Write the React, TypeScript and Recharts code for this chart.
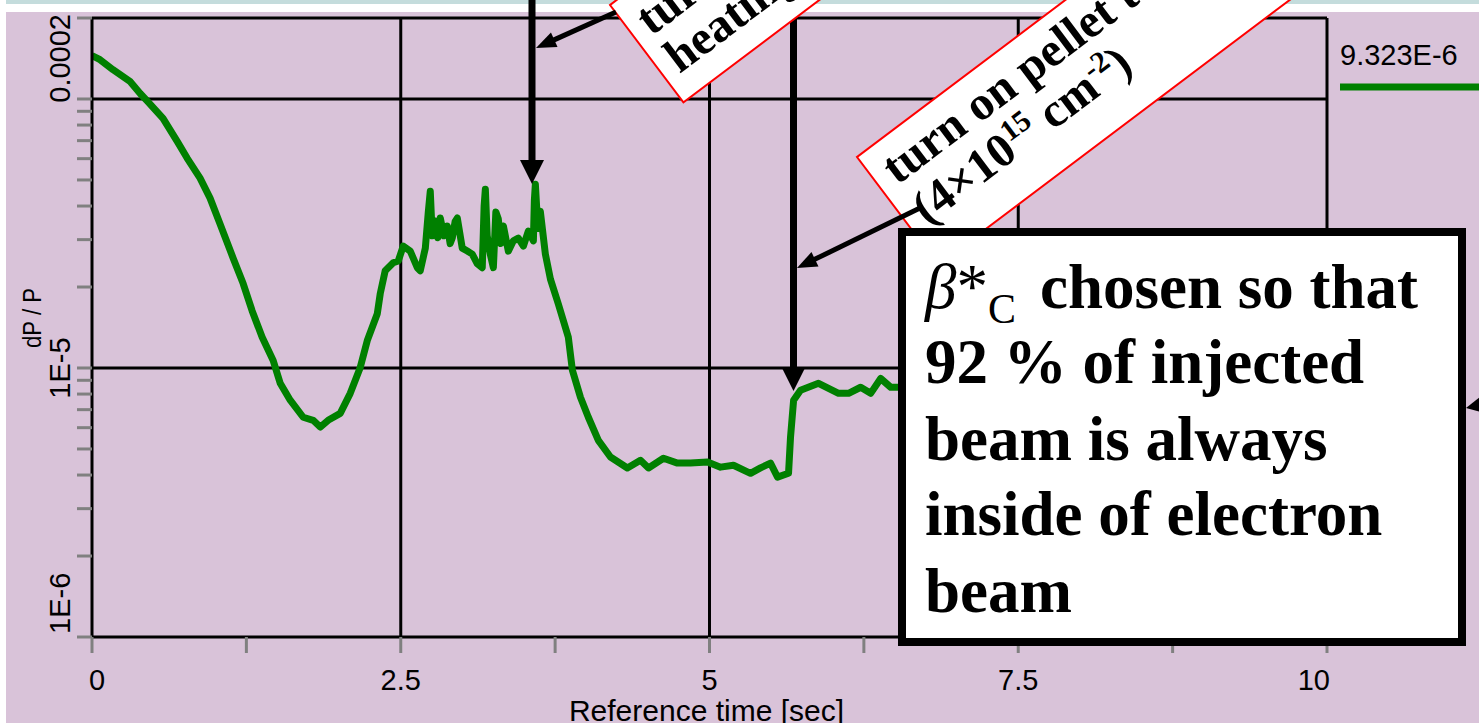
import React from 'react';
import { LineChart, Line, XAxis, YAxis, ReferenceLine, Label } from 'recharts';

// ---- data ----
const TIME_SEC = [
  0, 0.065, 0.17, 0.31, 0.39, 0.45, 0.575, 0.69, 0.77, 0.875,
  0.956, 1.037, 1.143, 1.224, 1.297, 1.378, 1.467, 1.524, 1.605, 1.71,
  1.791, 1.848, 1.912, 2.01, 2.091, 2.172, 2.229, 2.31, 2.334, 2.374,
  2.439, 2.48, 2.52, 2.577, 2.634, 2.658, 2.699, 2.723, 2.739, 2.755, 2.78, 2.8, 2.82,
  2.85, 2.877, 2.9, 2.917, 2.94, 2.958, 2.998, 3.039, 3.079, 3.12, 3.16, 3.175, 3.185, 3.2, 3.225,
  3.25, 3.27, 3.29, 3.31, 3.331, 3.371, 3.412, 3.452, 3.493, 3.533, 3.574, 3.582, 3.59, 3.61,
  3.63, 3.671, 3.712, 3.776, 3.857, 3.89, 3.955, 4.019, 4.1, 4.198,
  4.335, 4.441, 4.506, 4.627, 4.741, 4.846, 4.984, 5.089, 5.194, 5.332,
  5.413, 5.494, 5.551, 5.64, 5.656, 5.681, 5.737, 5.883, 6.045, 6.126,
  6.224, 6.305, 6.386, 6.467, 6.523,
  7.0, 7.5, 8.0, 8.5, 9.0, 9.5, 10.0,
];
// dP/P in units of 1e-6
const DPP_E6 = [
  145, 140, 128.5, 116, 104.8, 97.9, 84.7, 69.6, 60.3, 50.8,
  42.8, 34.3, 25.6, 20.6, 16.3, 13.0, 10.66, 8.77, 7.59, 6.56,
  6.39, 6.03, 6.39, 6.78, 8.05, 10.05, 12.65, 15.9, 18.9, 23.0,
  24.6, 25.0, 28.4, 27.2, 23.6, 23.0, 27.9, 38.0, 45.4, 31.0, 35.2, 30.5, 36.1,
  31.0, 33.7, 29.0, 30.4, 35.0, 36.1, 27.9, 27.2, 26.5, 24.4, 23.6, 40.0, 46.2, 31.0, 26.5,
  23.6, 38.0, 35.8, 29.0, 33.7, 27.2, 29.7, 30.4, 28.4, 32.3, 29.7, 42.0, 48.2, 33.0,
  38.3, 26.5, 21.4, 17.3, 13.0, 9.8, 7.78, 6.56, 5.38, 4.67,
  4.25, 4.54, 4.25, 4.62, 4.43, 4.43, 4.47, 4.28, 4.35, 4.06,
  4.25, 4.43, 3.93, 4.06, 5.53, 7.59, 8.26, 8.77, 8.05, 8.05,
  8.48, 8.05, 9.14, 8.48, 8.48,
  8.6, 8.9, 8.7, 9.0, 9.1, 9.2, 9.323,
];
const X_DOMAIN = [0, 10];
const X_TICKS = [0, 1.25, 2.5, 3.75, 5, 6.25, 7.5, 8.75, 10];
const X_LABELED = [0, 2.5, 5, 7.5, 10];
const X_GRID = [2.5, 5, 7.5];
const Y_DOMAIN = [1e-6, 2e-4];
const Y_TICKS = [
  1e-6, 2e-6, 3e-6, 4e-6, 5e-6, 6e-6, 7e-6, 8e-6, 9e-6,
  1e-5, 2e-5, 3e-5, 4e-5, 5e-5, 6e-5, 7e-5, 8e-5, 9e-5,
  1e-4, 2e-4,
];
const Y_LABELS: [number, string][] = [[2e-4, '0.0002'], [1e-5, '1E-5'], [1e-6, '1E-6']];
const Y_GRID = [1e-4, 1e-5];
const LEGEND_VALUE = '9.323E-6';
const X_TITLE = 'Reference time [sec]';
const Y_TITLE = 'dP / P';

const data = TIME_SEC.map((t, i) => ({ t, dpp: DPP_E6[i] * 1e-6 }));

const SANS = "'Liberation Sans', Arial, sans-serif";
const SERIF = "'Liberation Serif', 'Times New Roman', serif";
const PURPLE = '#D9C3D9';
const GREEN = '#008000';

const XTick = (p: any) => {
  const v = p.payload?.value;
  if (!X_LABELED.some((l) => Math.abs(l - v) < 1e-9)) return <g />;
  const first = Math.abs(v - X_LABELED[0]) < 1e-9;
  const last = Math.abs(v - X_LABELED[X_LABELED.length - 1]) < 1e-9;
  return (
    <text
      x={p.x + (first ? -3 : last ? 3 : 0)}
      y={p.y + 36}
      textAnchor={first ? 'start' : last ? 'end' : 'middle'}
      fontFamily={SANS}
      fontSize={29}
      fill="#000"
    >
      {String(v)}
    </text>
  );
};

const YTick = (p: any) => {
  const v = p.payload?.value;
  const lab = Y_LABELS.find(([val]) => Math.abs(val - v) / val < 1e-6);
  if (!lab) return <g />;
  const [val, text] = lab;
  const isTop = val === Y_DOMAIN[1];
  const isBottom = val === Y_DOMAIN[0];
  const cx = p.x - 5;
  const cy = isTop ? p.y - 4 : isBottom ? p.y - 3 : p.y;
  return (
    <text
      x={cx}
      y={cy}
      transform={`rotate(-90 ${cx} ${cy})`}
      textAnchor={isTop ? 'end' : isBottom ? 'start' : 'middle'}
      fontFamily={SANS}
      fontSize={29}
      fill="#000"
    >
      {text}
    </text>
  );
};

function Arrow({ x1, y1, x2, y2, w, hl, hw }: any) {
  const dx = x2 - x1, dy = y2 - y1;
  const L = Math.hypot(dx, dy);
  const ux = dx / L, uy = dy / L;
  const bx = x2 - ux * hl, by = y2 - uy * hl;
  const px = -uy, py = ux;
  return (
    <g>
      <line x1={x1} y1={y1} x2={bx + ux * 2} y2={by + uy * 2} stroke="#000" strokeWidth={w} />
      <polygon
        points={`${x2},${y2} ${bx + (px * hw) / 2},${by + (py * hw) / 2} ${bx - (px * hw) / 2},${by - (py * hw) / 2}`}
        fill="#000"
      />
    </g>
  );
}

export default function App() {
  return (
    <div style={{ position: 'absolute', left: 0, top: 0, width: 1479, height: 723, overflow: 'hidden', background: PURPLE }}>
      <div style={{ position: 'absolute', left: 0, top: 0, width: 1479, height: 4, background: '#C4DCDC' }} />
      <div style={{ position: 'absolute', left: 0, top: 4, width: 1479, height: 8, background: '#FFFFFF' }} />
      <div style={{ position: 'absolute', left: 0, top: 0, width: 6, height: 723, background: '#FFFFFF' }} />
      <div style={{ position: 'absolute', left: 0, top: 0 }}>
        <LineChart width={1479} height={723} data={data} margin={{ top: 18, right: 152, bottom: 0, left: 0 }}>
          <XAxis
            dataKey="t"
            type="number"
            domain={X_DOMAIN}
            ticks={X_TICKS}
            interval={0}
            allowDataOverflow
            height={86}
            tickSize={16}
            tickMargin={1}
            tick={<XTick />}
            tickLine={{ stroke: '#808080', strokeWidth: 3 }}
            axisLine={{ stroke: '#000', strokeWidth: 3 }}
          >
            <Label
              content={(pp: any) => {
                const vb = pp.viewBox || { x: 92, y: 637, width: 1235, height: 86 };
                return (
                  <text x={vb.x + vb.width / 2 - 3} y={vb.y + vb.height - 2} textAnchor="middle" fontFamily={SANS} fontSize={30} fill="#000">
                    {X_TITLE}
                  </text>
                );
              }}
            />
          </XAxis>
          <YAxis
            scale="log"
            domain={Y_DOMAIN}
            ticks={Y_TICKS}
            interval={0}
            allowDataOverflow
            width={92}
            tickSize={15}
            tickMargin={2}
            tick={<YTick />}
            tickLine={{ stroke: '#808080', strokeWidth: 3 }}
            axisLine={{ stroke: '#000', strokeWidth: 3 }}
          >
            <Label
              content={(pp: any) => {
                const vb = pp.viewBox || { x: 0, y: 18, width: 92, height: 619 };
                const cx = vb.x + 41;
                const cy = vb.y + 300;
                return (
                  <text
                    x={cx}
                    y={cy}
                    transform={`rotate(-90 ${cx} ${cy})`}
                    textAnchor="middle"
                    fontFamily={SANS}
                    fontSize={26}
                    textLength={60}
                    lengthAdjust="spacingAndGlyphs"
                    fill="#000"
                  >
                    {Y_TITLE}
                  </text>
                );
              }}
            />
          </YAxis>
          {Y_GRID.map((g) => (
            <ReferenceLine key={'yg' + g} y={g} stroke="#000" strokeWidth={3} ifOverflow="visible" />
          ))}
          {X_GRID.map((g) => (
            <ReferenceLine key={'xg' + g} x={g} stroke="#000" strokeWidth={3} ifOverflow="visible" />
          ))}
          <ReferenceLine y={Y_DOMAIN[1]} stroke="#000" strokeWidth={3} ifOverflow="visible" />
          <ReferenceLine x={X_DOMAIN[1]} stroke="#000" strokeWidth={3} ifOverflow="visible" />
          <Line
            dataKey="dpp"
            type="linear"
            stroke={GREEN}
            strokeWidth={7}
            strokeLinejoin="round"
            dot={false}
            activeDot={false}
            isAnimationActive={false}
          />
        </LineChart>
      </div>
      <svg width={1479} height={723} style={{ position: 'absolute', left: 0, top: 0, pointerEvents: 'none' }}>
        {/* legend */}
        <text x={1340} y={65} fontFamily={SANS} fontSize={29} fill="#000">{LEGEND_VALUE}</text>
        <line x1={1340} y1={87} x2={1479} y2={87} stroke={GREEN} strokeWidth={7} />
        {/* arrows */}
        <Arrow x1={532} y1={-5} x2={532} y2={184} w={7} hl={24} hw={24} />
        <Arrow x1={793.5} y1={-5} x2={793.5} y2={391} w={7} hl={24} hw={24} />
        {/* box 1 */}
        <g transform="translate(610,5) rotate(-37)">
          <rect x={0} y={0} width={560} height={122} fill="#fff" stroke="#f00" strokeWidth={2} />
          <text x={14} y={50} fontFamily={SERIF} fontWeight="bold" fontSize={48} fill="#000">turn off</text>
          <text x={14} y={97} fontFamily={SERIF} fontWeight="bold" fontSize={48} fill="#000">heating</text>
        </g>
        <Arrow x1={616} y1={12} x2={536} y2={48} w={5} hl={20} hw={16} />
        {/* box 2 */}
        <g transform="translate(857,157) rotate(-37)">
          <rect x={0} y={0} width={640} height={135} fill="#fff" stroke="#f00" strokeWidth={2} />
          <text x={15} y={47} fontFamily={SERIF} fontWeight="bold" fontSize={48} fill="#000">turn on pellet target</text>
          <text x={15} y={97} fontFamily={SERIF} fontWeight="bold" fontSize={48} fill="#000">
            <tspan>(4×10</tspan>
            <tspan dy={-17} fontSize={30}>15</tspan>
            <tspan dy={17}> cm</tspan>
            <tspan dy={-17} fontSize={30}>-2</tspan>
            <tspan dy={17}>)</tspan>
          </text>
        </g>
        <Arrow x1={920} y1={208} x2={797} y2={268} w={5} hl={20} hw={16} />
        {/* big note box */}
        <rect x={902} y={232} width={560} height={410} fill="#fff" stroke="#000" strokeWidth={8} />
        <text x={925} y={308} fontFamily={SERIF} fontSize={63} fill="#000">
          <tspan fontStyle="italic">β</tspan>
          <tspan>*</tspan>
          <tspan dy={15} fontSize={42}>C</tspan>
          <tspan x={1040} dy={-15} fontWeight="bold">chosen so that</tspan>
        </text>
        <text x={925} y={383} fontFamily={SERIF} fontWeight="bold" fontSize={63} fill="#000">92 % of injected</text>
        <text x={925} y={460} fontFamily={SERIF} fontWeight="bold" fontSize={63} fill="#000">beam is always</text>
        <text x={925} y={535} fontFamily={SERIF} fontWeight="bold" fontSize={63} fill="#000">inside of electron</text>
        <text x={925} y={612} fontFamily={SERIF} fontWeight="bold" fontSize={63} fill="#000">beam</text>
        <Arrow x1={1495} y1={402} x2={1466} y2={408} w={5} hl={16} hw={16} />
      </svg>
    </div>
  );
}
